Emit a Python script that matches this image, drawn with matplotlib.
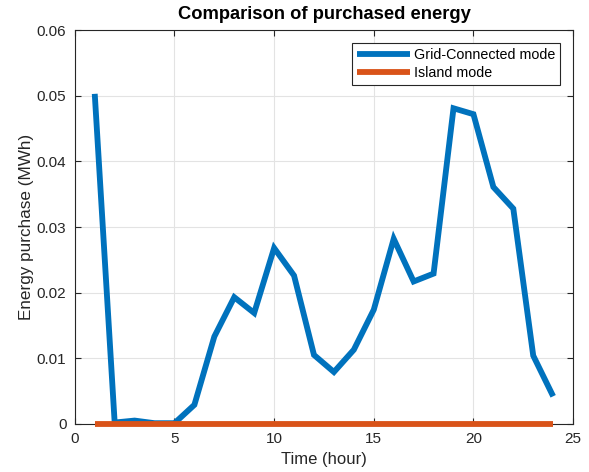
import matplotlib
matplotlib.use("Agg")
import matplotlib.pyplot as plt

plt.rcParams['font.family'] = ['Liberation Sans', 'DejaVu Sans']

hours = list(range(1, 25))
grid_connected = [0.0503, 0.0002, 0.0005, 0.0001, 0.0001, 0.0029, 0.0133, 0.0193,
                  0.0169, 0.0268, 0.0226, 0.0105, 0.0079, 0.0113, 0.0174, 0.0282,
                  0.0217, 0.0229, 0.0481, 0.0472, 0.0361, 0.0328, 0.0104, 0.0042]
island = [0.0] * 24

xticks = [0, 5, 10, 15, 20, 25]
yticks = [0, 0.01, 0.02, 0.03, 0.04, 0.05, 0.06]
ytick_labels = ['0', '0.01', '0.02', '0.03', '0.04', '0.05', '0.06']

fig = plt.figure(figsize=(5.89, 4.72), dpi=100)
ax = fig.add_axes([0.127, 0.102, 0.846, 0.834])

ax.plot(hours, grid_connected, color='#0072BD', lw=4.2, label='Grid-Connected mode',
        solid_joinstyle='miter', solid_capstyle='butt')
ax.plot(hours, island, color='#D95319', lw=4.2, label='Island mode', solid_capstyle='butt',
        clip_on=False, zorder=3)

ax.set_xlim(0, 25)
ax.set_ylim(0, 0.06)
ax.set_xticks(xticks)
ax.set_yticks(yticks)
ax.set_yticklabels(ytick_labels)
ax.grid(True, color='#e3e3e3', lw=0.8)
ax.set_axisbelow(True)
ax.tick_params(direction='in', length=4, labelsize=11, colors='#262626', top=True, right=True,
               labeltop=False, labelright=False, pad=6)
for s in ax.spines.values():
    s.set_color('#262626')
    s.set_linewidth(0.8)

ax.set_xlabel('Time (hour)', fontsize=12, color='#262626', labelpad=4)
ax.set_ylabel('Energy purchase (MWh)', fontsize=12.3, color='#262626', labelpad=2)
ax.set_title('Comparison of purchased energy', fontsize=13.2, fontweight='bold', pad=8)

leg = ax.legend(loc='upper right', fontsize=10.3, fancybox=False, framealpha=1,
                edgecolor='#262626', handlelength=3.7, handletextpad=0.3,
                borderpad=0.35, labelspacing=0.3, borderaxespad=0.9)
leg.get_frame().set_linewidth(0.8)

fig.savefig('out.png', dpi=100)
